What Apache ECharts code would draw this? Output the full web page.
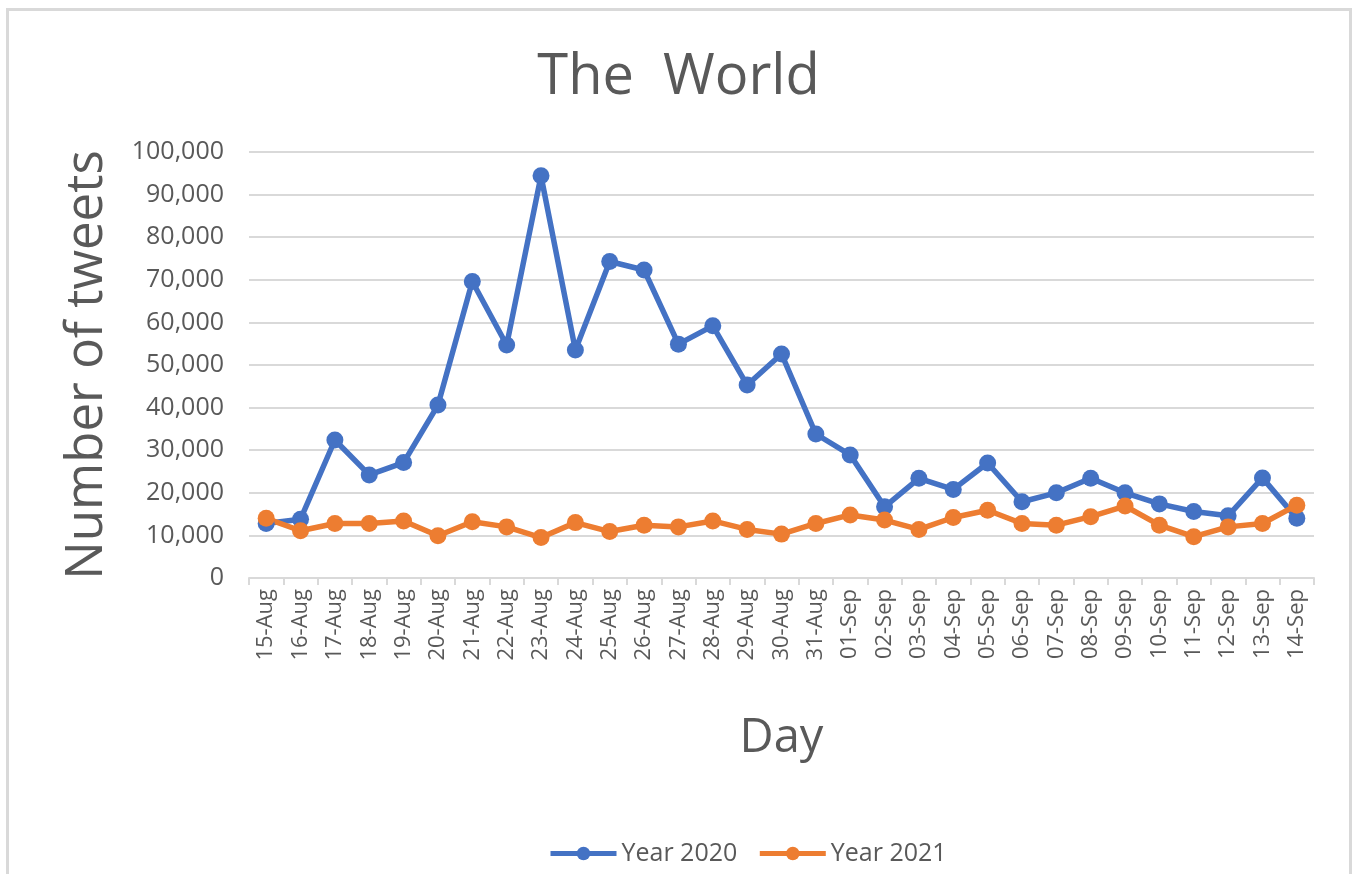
<!DOCTYPE html>
<html>
<head>
<meta charset="utf-8">
<script src="https://cdn.jsdelivr.net/npm/echarts@6/dist/echarts.min.js"></script>
<style>
  html, body { margin: 0; padding: 0; background: #ffffff; }
  #chart { width: 1357px; height: 874px; }
</style>
</head>
<body>
<div id="chart"></div>
<script>
// Daily tweet counts, 15 Aug – 14 Sep
const days = [
  '15-Aug', '16-Aug', '17-Aug', '18-Aug', '19-Aug', '20-Aug', '21-Aug', '22-Aug',
  '23-Aug', '24-Aug', '25-Aug', '26-Aug', '27-Aug', '28-Aug', '29-Aug', '30-Aug',
  '31-Aug', '01-Sep', '02-Sep', '03-Sep', '04-Sep', '05-Sep', '06-Sep', '07-Sep',
  '08-Sep', '09-Sep', '10-Sep', '11-Sep', '12-Sep', '13-Sep', '14-Sep'
];
const year2020 = [
  12800, 13800, 32400, 24200, 27100, 40600, 69600, 54700,
  94400, 53500, 74300, 72300, 54900, 59200, 45300, 52600,
  33800, 28900, 16700, 23400, 20800, 27000, 17900, 20000,
  23400, 20000, 17400, 15600, 14600, 23500, 14000
];
const year2021 = [
  14000, 11100, 12800, 12800, 13400, 9900, 13200, 12000,
  9500, 13000, 10900, 12400, 12000, 13400, 11400, 10300,
  12800, 14800, 13600, 11400, 14200, 15900, 12800, 12400,
  14400, 16900, 12400, 9700, 12000, 12800, 17100
];
const seriesNames = ['Year 2020', 'Year 2021'];
const seriesColors = ['#4472C4', '#ED7D31'];

const FONT = '"Open Sans", "Noto Sans", sans-serif';
const TEXT = '#595959';
const GRID_LINE = '#d9d9d9';

const chart = echarts.init(document.getElementById('chart'), null, { renderer: 'canvas' });

function lineSeries(name, data, color) {
  return {
    name: name,
    type: 'line',
    data: data,
    symbol: 'circle',
    symbolSize: 17,
    showSymbol: true,
    lineStyle: { color: color, width: 5.5 },
    itemStyle: { color: color },
    emphasis: { disabled: true },
    animation: false
  };
}

chart.setOption({
  backgroundColor: '#ffffff',
  animation: false,
  graphic: [{
    type: 'rect',
    shape: { x: 7.5, y: 9.5, width: 1343, height: 880 },
    style: { fill: 'none', stroke: GRID_LINE, lineWidth: 3 },
    silent: true,
    z: -1
  }],
  title: {
    text: 'The  World',
    left: 'center',
    top: 45,
    textStyle: { fontFamily: FONT, fontSize: 56, fontWeight: 'normal', color: TEXT }
  },
  legend: {
    data: seriesNames,
    bottom: 8,
    left: 548,
    padding: 0,
    itemWidth: 66,
    itemHeight: 17,
    itemGap: 20,
    lineStyle: { width: 5 },
    textStyle: { fontFamily: FONT, fontSize: 25, color: TEXT }
  },
  grid: { left: 249, right: 43, top: 152, bottom: 296 },
  xAxis: {
    type: 'category',
    data: days,
    boundaryGap: true,
    name: 'Day',
    nameLocation: 'middle',
    nameGap: 137,
    nameTextStyle: { fontFamily: FONT, fontSize: 47, color: TEXT },
    axisLine: { lineStyle: { color: GRID_LINE, width: 2 } },
    axisTick: { show: true, alignWithLabel: false, length: 7, lineStyle: { color: GRID_LINE, width: 2 } },
    axisLabel: {
      rotate: 90,
      interval: 0,
      margin: 11,
      fontFamily: FONT,
      fontSize: 22,
      color: TEXT
    },
    splitLine: { show: false }
  },
  yAxis: {
    type: 'value',
    min: 0,
    max: 100000,
    interval: 10000,
    name: 'Number of tweets',
    nameLocation: 'middle',
    nameGap: 136,
    nameTextStyle: { fontFamily: FONT, fontSize: 51, color: TEXT },
    axisLine: { show: false },
    axisTick: { show: false },
    axisLabel: {
      margin: 25,
      fontFamily: FONT,
      fontSize: 25,
      color: TEXT,
      formatter: function (v) { return v.toLocaleString('en-US'); }
    },
    splitLine: { lineStyle: { color: GRID_LINE, width: 2 } }
  },
  series: [
    lineSeries(seriesNames[0], year2020, seriesColors[0]),
    lineSeries(seriesNames[1], year2021, seriesColors[1])
  ]
});
</script>
</body>
</html>
